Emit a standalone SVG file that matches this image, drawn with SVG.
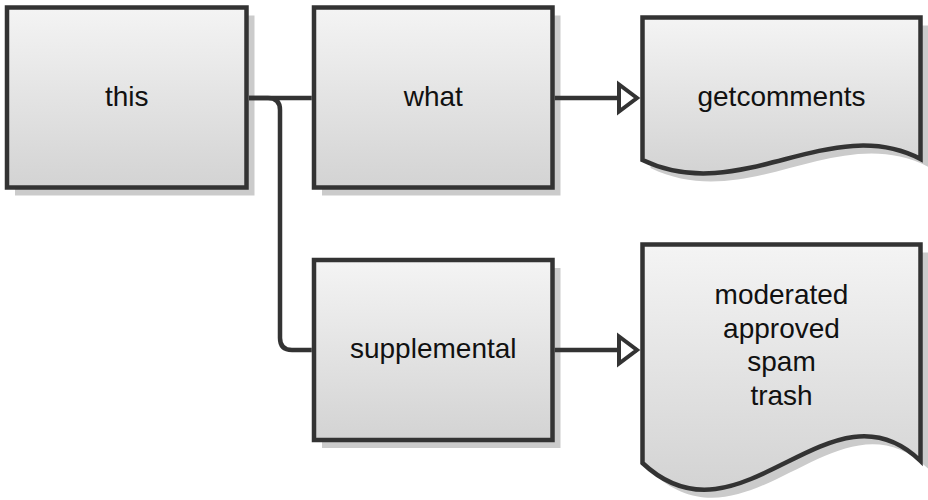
<svg xmlns="http://www.w3.org/2000/svg" width="928" height="500" viewBox="0 0 928 500">
  <defs>
    <linearGradient id="fillGrad" x1="0" y1="0" x2="0" y2="1">
      <stop offset="0" stop-color="#f4f4f4"/>
      <stop offset="1" stop-color="#d3d3d3"/>
    </linearGradient>
    <marker id="openArrow" markerUnits="userSpaceOnUse" markerWidth="26" markerHeight="34" viewBox="0 0 26 34" refX="21" refY="16" orient="auto" overflow="visible">
      <polygon points="3,2.5 3,29.5 21,16" fill="#ffffff" stroke="#333333" stroke-width="4" stroke-linejoin="miter"/>
    </marker>
  </defs>
  <style>
    .shadow { fill: #cbcbcb; stroke: none; }
    .shape { fill: url(#fillGrad); stroke: #333333; stroke-width: 4.5; stroke-linejoin: miter; }
    .label { font-family: "Liberation Sans", Arial, sans-serif; font-size: 28px; fill: #111111; text-anchor: middle; }
    .conn { fill: none; stroke: #333333; stroke-width: 4.5; }
  </style>
  <rect width="928" height="500" fill="#ffffff"/>

  <g id="node-this">
    <rect class="shadow" x="15" y="15.5" width="239.5" height="180"/>
    <rect class="shape" x="7" y="7.5" width="239.5" height="180"/>
    <text class="label" x="126.75" y="106">this</text>
  </g>

  <g id="node-what">
    <rect class="shadow" x="322" y="15.5" width="238.5" height="180"/>
    <rect class="shape" x="314" y="7.5" width="238.5" height="180"/>
    <text class="label" x="433.25" y="106">what</text>
  </g>

  <g id="node-supplemental">
    <rect class="shadow" x="322" y="268" width="238.5" height="180"/>
    <rect class="shape" x="314" y="260" width="238.5" height="180"/>
    <text class="label" x="433.25" y="358">supplemental</text>
  </g>

  <g id="node-getcomments">
    <path class="shadow" transform="translate(8,8)" d="M642.5,17.5 H920.5 V159 C830,112 740,207 642.5,160 Z"/>
    <path class="shape" d="M642.5,17.5 H920.5 V159 C830,112 740,207 642.5,160 Z"/>
    <text class="label" x="781.5" y="106">getcomments</text>
  </g>

  <g id="node-statuses">
    <path class="shadow" transform="translate(8,8)" d="M642.5,244.5 H920.5 V461 C830,373 740,555 642.5,463 Z"/>
    <path class="shape" d="M642.5,244.5 H920.5 V461 C830,373 740,555 642.5,463 Z"/>
    <text class="label" x="781.5" y="304">moderated</text>
    <text class="label" x="781.5" y="337.6">approved</text>
    <text class="label" x="781.5" y="371.2">spam</text>
    <text class="label" x="781.5" y="404.8">trash</text>
  </g>

  <g id="connectors">
    <path class="conn" d="M249,98 H311.75"/>
    <path class="conn" d="M249,98 H268 Q280,98 280,110 V338 Q280,350 292,350 H311.75"/>
    <path class="conn" d="M554.75,98 H637" marker-end="url(#openArrow)"/>
    <path class="conn" d="M554.75,350 H637" marker-end="url(#openArrow)"/>
  </g>
</svg>
